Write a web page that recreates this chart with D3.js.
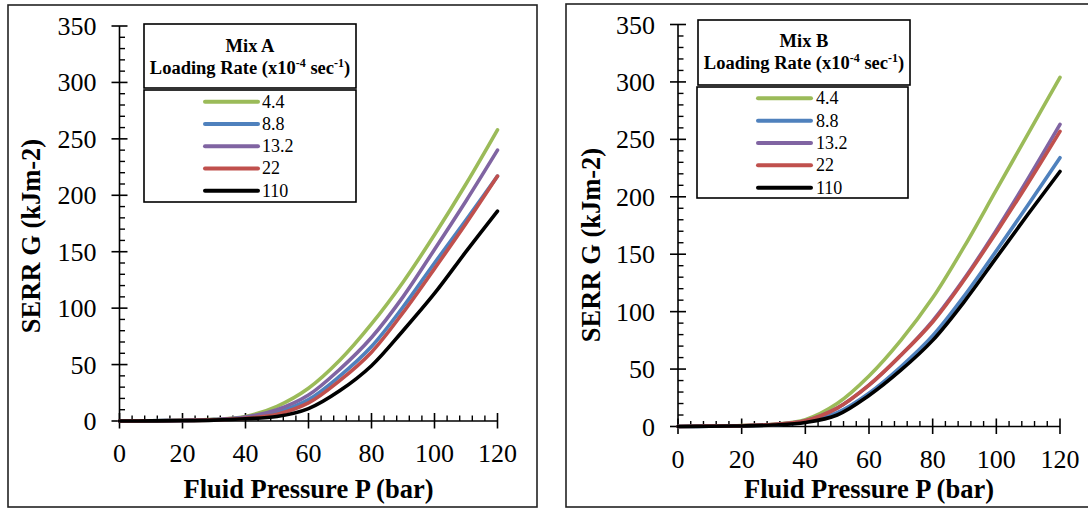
<!DOCTYPE html>
<html><head><meta charset="utf-8">
<script src="https://cdn.jsdelivr.net/npm/d3@7"></script>
<style>body{margin:0;background:#fff}svg{display:block}
text{font-family:"Liberation Serif","Times New Roman",Times,"DejaVu Serif","Noto Serif",serif;}</style>
</head><body><svg id="c" width="1088" height="509"></svg>
<script>
// ---- data ----
const pressure = [0,10,20,30,40,50,60,70,80,90,100,110,120];
const rateLabels = ["4.4","8.8","13.2","22","110"];
const seriesColors = ["#9BBB59","#4F81BD","#8064A2","#C0504D","#000000"];
const xTicks = [0,20,40,60,80,100,120];
const yTicks = [0,50,100,150,200,250,300,350];

const mixA_4_4  = [0,0.2,0.6,1.5,4,13,29,54,86,123,165,210,258];
const mixA_8_8  = [0,0.2,0.5,1.2,3,8,19,40,66,101,140,178,217];
const mixA_13_2 = [0,0.2,0.5,1.3,3.5,10,23,46,74,110,152,195,240];
const mixA_22   = [0,0.2,0.4,1,2.5,6,16,36,61,96,135,175,217];
const mixA_110  = [0,0.1,0.3,0.8,2,4,11,27,49,80,113,150,186];

const mixB_4_4  = [0,0.3,0.8,2,6,20,44,75,112,157,206,255,304];
const mixB_8_8  = [0,0.2,0.6,1.5,4,12,29,52,79,114,153,193,234];
const mixB_13_2 = [0,0.3,0.7,1.8,5,16,36,62,92,129,171,216,263];
const mixB_22   = [0,0.3,0.7,1.8,5,16,36,62,91,128,169,212,257];
const mixB_110  = [0,0.2,0.5,1.3,3.5,10,27,49,75,109,147,185,222];

const panels = [
  { mix:"Mix A", series:[mixA_4_4,mixA_8_8,mixA_13_2,mixA_22,mixA_110],
    box:[8,5,537,507], px:[119.5,497.5], py:[421,26],
    ytitle:[40,236],
    lt:[144,24,356,88], li:[144,90,356,202], lline:[205,258], ly0:101.7, ldy:22.25, ltx:262,
    tb1:51.7, tb2:74 },
  { mix:"Mix B", series:[mixB_4_4,mixB_8_8,mixB_13_2,mixB_22,mixB_110],
    box:[566,4,1100,507], px:[678,1060], py:[426.5,24.5],
    ytitle:[600,245],
    lt:[698,20,910,85], li:[697,87,908,198], lline:[758,811], ly0:98.3, ldy:22.35, ltx:816,
    tb1:47.3, tb2:69 }
];

const svg = d3.select("#c");

panels.forEach(p => {
  const g = svg.append("g");
  g.append("rect").attr("x",p.box[0]).attr("y",p.box[1])
    .attr("width",p.box[2]-p.box[0]).attr("height",p.box[3]-p.box[1])
    .attr("fill","#fff").attr("stroke","#222").attr("stroke-width",1.6);

  const x = d3.scaleLinear().domain([0,120]).range(p.px);
  const y = d3.scaleLinear().domain([0,350]).range(p.py);

  // y axis
  const yMinor = d3.range(0,351,10).filter(v=>v%50!==0);
  g.append("line").attr("x1",x(0)).attr("x2",x(0)).attr("y1",y(0)).attr("y2",y(350))
    .attr("stroke","#000").attr("stroke-width",1.6);
  g.selectAll(".ymaj").data(yTicks).join("line")
    .attr("x1",x(0)-8).attr("x2",x(0)+8).attr("y1",d=>y(d)).attr("y2",d=>y(d))
    .attr("stroke","#000").attr("stroke-width",1.6);
  g.selectAll(".ymin").data(yMinor).join("line")
    .attr("x1",x(0)).attr("x2",x(0)+5.5).attr("y1",d=>y(d)).attr("y2",d=>y(d))
    .attr("stroke","#000").attr("stroke-width",1.4);
  g.selectAll(".ylab").data(yTicks).join("text")
    .attr("x",x(0)-23).attr("y",d=>y(d)+9).attr("text-anchor","end")
    .attr("font-size",26).text(d=>d);

  // x axis
  const xMinor = d3.range(0,121,4).filter(v=>v%20!==0);
  g.append("line").attr("x1",x(0)).attr("x2",x(120)).attr("y1",y(0)).attr("y2",y(0))
    .attr("stroke","#000").attr("stroke-width",1.6);
  g.selectAll(".xmaj").data(xTicks).join("line")
    .attr("x1",d=>x(d)).attr("x2",d=>x(d)).attr("y1",y(0)-8).attr("y2",y(0)+7.5)
    .attr("stroke","#000").attr("stroke-width",1.6);
  g.selectAll(".xmin").data(xMinor).join("line")
    .attr("x1",d=>x(d)).attr("x2",d=>x(d)).attr("y1",y(0)).attr("y2",y(0)-5.5)
    .attr("stroke","#000").attr("stroke-width",1.4);
  g.selectAll(".xlab").data(xTicks).join("text")
    .attr("x",d=>x(d)).attr("y",y(0)+41).attr("text-anchor","middle")
    .attr("font-size",26).text(d=>d);

  // titles
  g.append("text").attr("x",(p.px[0]+p.px[1])/2).attr("y",498).attr("text-anchor","middle")
    .attr("font-weight","bold").attr("font-size",26.5)
    .text("Fluid Pressure P (bar)");
  g.append("text").attr("transform",`translate(${p.ytitle[0]},${p.ytitle[1]}) rotate(-90)`)
    .attr("text-anchor","middle")
    .attr("font-weight","bold").attr("font-size",26.5)
    .text("SERR G (kJm-2)");

  // curves
  const line = d3.line().x((d,i)=>x(pressure[i])).y(d=>y(d)).curve(d3.curveCatmullRom.alpha(0.5));
  p.series.forEach((s,k)=>{
    g.append("path").attr("d",line(s)).attr("fill","none")
      .attr("stroke",seriesColors[k]).attr("stroke-width",3.6)
      .attr("stroke-linecap","round").attr("stroke-linejoin","round");
  });

  // legend title box
  g.append("rect").attr("x",p.lt[0]).attr("y",p.lt[1]).attr("width",p.lt[2]-p.lt[0]).attr("height",p.lt[3]-p.lt[1])
    .attr("fill","#fff").attr("stroke","#000").attr("stroke-width",1.6);
  const cx = (p.lt[0]+p.lt[2])/2;
  g.append("text").attr("x",cx).attr("y",p.tb1).attr("text-anchor","middle")
    .attr("font-weight","bold").attr("font-size",18.5).text(p.mix);
  const t2 = g.append("text").attr("x",cx).attr("y",p.tb2).attr("text-anchor","middle")
    .attr("font-weight","bold").attr("font-size",18.5);
  t2.append("tspan").text("Loading Rate (x10");
  t2.append("tspan").attr("dy",-7.5).attr("font-size",12).text("-4");
  t2.append("tspan").attr("dy",7.5).text(" sec");
  t2.append("tspan").attr("dy",-7.5).attr("font-size",12).text("-1");
  t2.append("tspan").attr("dy",7.5).text(")");

  // legend items box
  g.append("rect").attr("x",p.li[0]).attr("y",p.li[1]).attr("width",p.li[2]-p.li[0]).attr("height",p.li[3]-p.li[1])
    .attr("fill","#fff").attr("stroke","#000").attr("stroke-width",1.6);
  rateLabels.forEach((lab,k)=>{
    const ly = p.ly0 + k*p.ldy;
    g.append("line").attr("x1",p.lline[0]).attr("x2",p.lline[1]).attr("y1",ly).attr("y2",ly)
      .attr("stroke",seriesColors[k]).attr("stroke-width",4).attr("stroke-linecap","round");
    g.append("text").attr("x",p.ltx).attr("y",ly+6).attr("font-size",18).text(lab);
  });
});
</script></body></html>
